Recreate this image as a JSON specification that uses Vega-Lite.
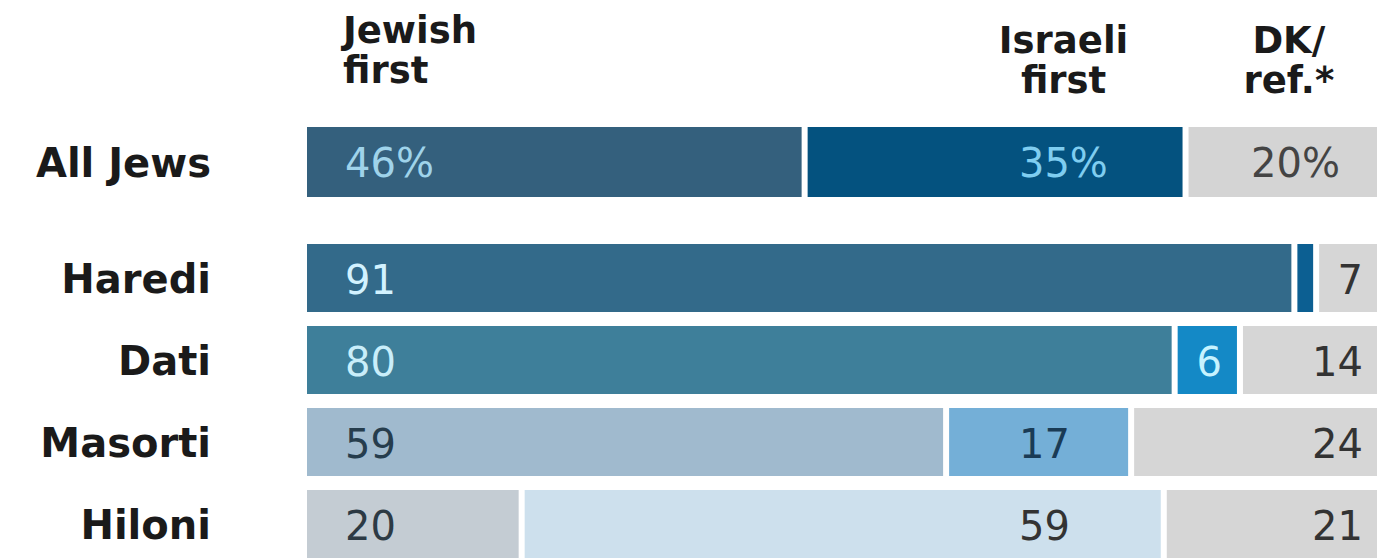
{
  "$schema": "https://vega.github.io/schema/vega-lite/v6.json",
  "autosize": "none",
  "padding": {"left": 305, "top": 0, "right": 0, "bottom": 0},
  "width": 1072,
  "height": 558,
  "background": "white",
  "config": {"view": {"stroke": null}, "text": {"font": "DejaVu Sans"}},
  "data": {"values": [
    {"group": "All Jews", "answer": "Jewish first", "value": 46, "label": "46%"},
    {"group": "All Jews", "answer": "Israeli first", "value": 35, "label": "35%"},
    {"group": "All Jews", "answer": "DK/ref.*", "value": 20, "label": "20%"},
    {"group": "Haredi", "answer": "Jewish first", "value": 91, "label": "91"},
    {"group": "Haredi", "answer": "Israeli first", "value": 2, "label": ""},
    {"group": "Haredi", "answer": "DK/ref.*", "value": 7, "label": "7"},
    {"group": "Dati", "answer": "Jewish first", "value": 80, "label": "80"},
    {"group": "Dati", "answer": "Israeli first", "value": 6, "label": "6"},
    {"group": "Dati", "answer": "DK/ref.*", "value": 14, "label": "14"},
    {"group": "Masorti", "answer": "Jewish first", "value": 59, "label": "59"},
    {"group": "Masorti", "answer": "Israeli first", "value": 17, "label": "17"},
    {"group": "Masorti", "answer": "DK/ref.*", "value": 24, "label": "24"},
    {"group": "Hiloni", "answer": "Jewish first", "value": 20, "label": "20"},
    {"group": "Hiloni", "answer": "Israeli first", "value": 59, "label": "59"},
    {"group": "Hiloni", "answer": "DK/ref.*", "value": 21, "label": "21"}
  ]},
  "transform": [
    {"stack": "value", "groupby": ["group"], "sort": [{"field": "answer", "order": "descending"}], "as": ["x0", "x1"]}
  ],
  "resolve": {"scale": {"y": "independent"}},
  "layer": [
    {
      "transform": [{"filter": "datum.group === 'All Jews'"}],
      "layer": [
        {
          "mark": {"type": "bar", "clip": true, "xOffset": 2, "x2Offset": -4},
          "encoding": {
            "x": {"field": "x0", "type": "quantitative", "scale": {"domain": [0, 98.5], "nice": false, "zero": true}, "axis": null},
            "x2": {"field": "x1"},
            "y": {"field": "group", "type": "nominal", "scale": {"domain": ["All Jews"], "range": [127, 197], "paddingInner": 0, "paddingOuter": 0}, "axis": null},
            "color": {
              "condition": [
                {"test": "datum.answer === 'Jewish first'", "value": "#34607d"},
                {"test": "datum.answer === 'Israeli first'", "value": "#04527f"}
              ],
              "value": "#d4d4d4"
            }
          }
        },
        {
          "transform": [{"filter": "datum.answer === 'Jewish first'"}],
          "mark": {"type": "text", "align": "right", "baseline": "alphabetic", "dx": -94, "dy": 15, "fontSize": 40, "fontWeight": "bold", "color": "#1a1a1a"},
          "encoding": {
            "x": {"datum": 0, "type": "quantitative"},
            "y": {"field": "group", "type": "nominal", "axis": null},
            "text": {"field": "group"}
          }
        },
        {
          "transform": [{"filter": "datum.answer === 'Jewish first'"}],
          "mark": {"type": "text", "align": "left", "baseline": "alphabetic", "dx": 38, "dy": -119, "fontSize": 37, "fontWeight": "bold", "lineHeight": 40, "color": "#1a1a1a", "text": ["Jewish", "first"]},
          "encoding": {
            "x": {"datum": 0, "type": "quantitative"},
            "y": {"field": "group", "type": "nominal", "axis": null}
          }
        },
        {
          "transform": [{"filter": "datum.answer === 'Jewish first'"}],
          "mark": {"type": "text", "align": "center", "baseline": "alphabetic", "dy": -109, "fontSize": 37, "fontWeight": "bold", "lineHeight": 40, "color": "#1a1a1a", "text": ["Israeli", "first"]},
          "encoding": {
            "x": {"datum": 69.7, "type": "quantitative"},
            "y": {"field": "group", "type": "nominal", "axis": null}
          }
        },
        {
          "transform": [{"filter": "datum.answer === 'Jewish first'"}],
          "mark": {"type": "text", "align": "center", "baseline": "alphabetic", "dy": -109, "fontSize": 37, "fontWeight": "bold", "lineHeight": 40, "color": "#1a1a1a", "text": ["DK/", "ref.*"]},
          "encoding": {
            "x": {"datum": 90.4, "type": "quantitative"},
            "y": {"field": "group", "type": "nominal", "axis": null}
          }
        },
        {
          "transform": [{"filter": "datum.answer === 'Jewish first'"}],
          "mark": {"type": "text", "align": "left", "baseline": "alphabetic", "dx": 40, "dy": 15, "fontSize": 40, "color": "#9fd3ea"},
          "encoding": {
            "x": {"datum": 0, "type": "quantitative"},
            "y": {"field": "group", "type": "nominal", "axis": null},
            "text": {"field": "label"}
          }
        },
        {
          "transform": [{"filter": "datum.answer === 'Israeli first'"}],
          "mark": {"type": "text", "align": "left", "baseline": "alphabetic", "dy": 15, "fontSize": 40, "color": "#7fcdf0"},
          "encoding": {
            "x": {"datum": 65.6, "type": "quantitative"},
            "y": {"field": "group", "type": "nominal", "axis": null},
            "text": {"field": "label"}
          }
        },
        {
          "transform": [{"filter": "datum.answer === 'DK/ref.*'"}],
          "mark": {"type": "text", "align": "right", "baseline": "alphabetic", "dx": -37, "dy": 15, "fontSize": 40, "color": "#444444"},
          "encoding": {
            "x": {"datum": 98.5, "type": "quantitative"},
            "y": {"field": "group", "type": "nominal", "axis": null},
            "text": {"field": "label"}
          }
        }
      ]
    },
    {
      "transform": [{"filter": "datum.group !== 'All Jews'"}],
      "layer": [
        {
          "mark": {"type": "bar", "clip": true, "xOffset": 2, "x2Offset": -4},
          "encoding": {
            "x": {"field": "x0", "type": "quantitative", "scale": {"domain": [0, 98.5], "nice": false, "zero": true}, "axis": null},
            "x2": {"field": "x1"},
            "y": {"field": "group", "type": "nominal", "scale": {"domain": ["Haredi", "Dati", "Masorti", "Hiloni"], "range": [244, 558], "paddingInner": 0.1707, "paddingOuter": 0}, "axis": null},
            "color": {
              "condition": [
                {"test": "datum.group === 'Haredi' && datum.answer === 'Jewish first'", "value": "#336a8a"},
                {"test": "datum.group === 'Haredi' && datum.answer === 'Israeli first'", "value": "#0c5f92"},
                {"test": "datum.group === 'Dati' && datum.answer === 'Jewish first'", "value": "#3e7f9a"},
                {"test": "datum.group === 'Dati' && datum.answer === 'Israeli first'", "value": "#1489c6"},
                {"test": "datum.group === 'Masorti' && datum.answer === 'Jewish first'", "value": "#a0bace"},
                {"test": "datum.group === 'Masorti' && datum.answer === 'Israeli first'", "value": "#74afd7"},
                {"test": "datum.group === 'Hiloni' && datum.answer === 'Jewish first'", "value": "#c4ccd3"},
                {"test": "datum.group === 'Hiloni' && datum.answer === 'Israeli first'", "value": "#cde0ed"}
              ],
              "value": "#d6d6d6"
            }
          }
        },
        {
          "transform": [{"filter": "datum.answer === 'Jewish first'"}],
          "mark": {"type": "text", "align": "right", "baseline": "alphabetic", "dx": -94, "dy": 15, "fontSize": 40, "fontWeight": "bold", "color": "#1a1a1a"},
          "encoding": {
            "x": {"datum": 0, "type": "quantitative"},
            "y": {"field": "group", "type": "nominal", "axis": null},
            "text": {"field": "group"}
          }
        },
        {
          "transform": [{"filter": "datum.answer === 'Jewish first'"}],
          "mark": {"type": "text", "align": "left", "baseline": "alphabetic", "dx": 40, "dy": 16, "fontSize": 40},
          "encoding": {
            "x": {"datum": 0, "type": "quantitative"},
            "y": {"field": "group", "type": "nominal", "axis": null},
            "text": {"field": "label"},
            "color": {
              "condition": [
                {"test": "datum.group === 'Haredi'", "value": "#d2f2ff"},
                {"test": "datum.group === 'Dati'", "value": "#c9eefa"},
                {"test": "datum.group === 'Masorti'", "value": "#263d4d"}
              ],
              "value": "#2d3a44"
            }
          }
        },
        {
          "transform": [{"filter": "datum.answer === 'Israeli first' && datum.group !== 'Dati'"}],
          "mark": {"type": "text", "align": "left", "baseline": "alphabetic", "dy": 16, "fontSize": 40},
          "encoding": {
            "x": {"datum": 65.6, "type": "quantitative"},
            "y": {"field": "group", "type": "nominal", "axis": null},
            "text": {"field": "label"},
            "color": {
              "condition": [{"test": "datum.group === 'Masorti'", "value": "#1a3b55"}],
              "value": "#333333"
            }
          }
        },
        {
          "transform": [{"filter": "datum.answer === 'Israeli first' && datum.group === 'Dati'"}],
          "mark": {"type": "text", "align": "right", "baseline": "alphabetic", "dx": -19, "dy": 16, "fontSize": 40, "color": "#c7f3ff"},
          "encoding": {
            "x": {"field": "x1", "type": "quantitative"},
            "y": {"field": "group", "type": "nominal", "axis": null},
            "text": {"field": "label"}
          }
        },
        {
          "transform": [{"filter": "datum.answer === 'DK/ref.*'"}],
          "mark": {"type": "text", "align": "right", "baseline": "alphabetic", "dx": -14, "dy": 16, "fontSize": 40, "color": "#333333"},
          "encoding": {
            "x": {"datum": 98.5, "type": "quantitative"},
            "y": {"field": "group", "type": "nominal", "axis": null},
            "text": {"field": "label"}
          }
        }
      ]
    }
  ]
}
